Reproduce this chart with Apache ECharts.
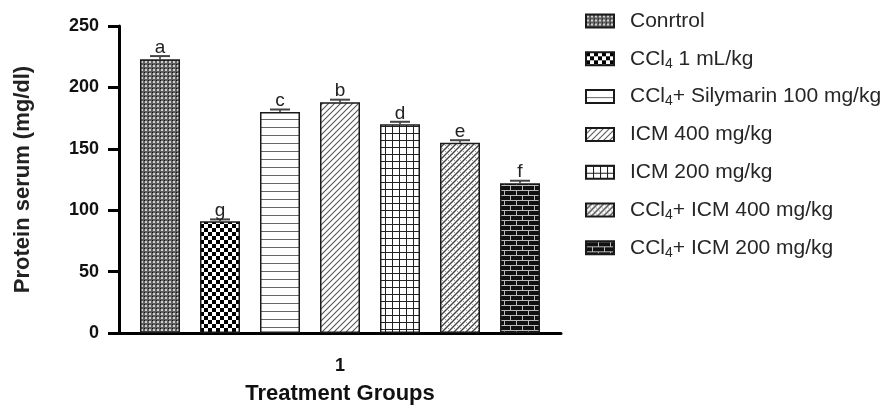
<!DOCTYPE html>
<html>
<head>
<meta charset="utf-8">
<script src="https://cdn.jsdelivr.net/npm/echarts@6/dist/echarts.min.js"></script>
<style>
  html, body { margin: 0; padding: 0; background: #fff; }
  #chart { width: 895px; height: 410px; }
</style>
</head>
<body>
<div id="chart"></div>
<script>
// Group names, mean values, error (SEM) and significance letters
const groups = [
  'Conrtrol',
  'CCl4 1 mL/kg',
  'CCl4+ Silymarin 100 mg/kg',
  'ICM 400 mg/kg',
  'ICM 200 mg/kg',
  'CCl4+ ICM 400 mg/kg',
  'CCl4+ ICM 200 mg/kg'
];
const means = [223, 91, 180, 188, 170, 155, 122];
const errors = [2.5, 1.5, 2, 2, 2, 2, 2];
const letters = ['a', 'g', 'c', 'b', 'd', 'e', 'f'];
const xCategories = ['1'];
const yTicks = { min: 0, max: 250, interval: 50 };

const FONT = '"Liberation Sans", Arial, sans-serif';
const BAR_W = 40;
const BAR_GAP = 0.5;

// ---- fill patterns built on small canvases ----
function tile(w, h, draw) {
  const c = document.createElement('canvas');
  c.width = w; c.height = h;
  const g = c.getContext('2d');
  draw(g, w, h);
  return { image: c, repeat: 'repeat' };
}
const patterns = [
  // fine gray dot texture
  tile(4, 4, (g) => {
    g.fillStyle = '#5e5e5e'; g.fillRect(0, 0, 4, 4);
    g.fillStyle = '#cfcfcf'; g.fillRect(1, 1, 2, 2);
    g.fillStyle = '#111'; g.fillRect(0, 0, 1, 1);
  }),
  // checkerboard
  tile(8, 8, (g) => {
    g.fillStyle = '#fff'; g.fillRect(0, 0, 8, 8);
    g.fillStyle = '#000'; g.fillRect(0, 0, 4, 4); g.fillRect(4, 4, 4, 4);
  }),
  // horizontal lines
  tile(8, 8, (g) => {
    g.fillStyle = '#fff'; g.fillRect(0, 0, 8, 8);
    g.fillStyle = '#666'; g.fillRect(0, 7, 8, 1);
  }),
  // forward diagonal lines
  tile(6, 6, (g, w, h) => {
    g.fillStyle = '#fff'; g.fillRect(0, 0, w, h);
    g.strokeStyle = '#555'; g.lineWidth = 1.1;
    [[-1, 1, 1, -1], [0, h, w, 0], [w - 1, h + 1, w + 1, h - 1]].forEach(s => {
      g.beginPath(); g.moveTo(s[0], s[1]); g.lineTo(s[2], s[3]); g.stroke();
    });
  }),
  // square grid
  tile(7, 7, (g) => {
    g.fillStyle = '#fff'; g.fillRect(0, 0, 7, 7);
    g.fillStyle = '#222'; g.fillRect(0, 0, 7, 1); g.fillRect(0, 0, 1, 7);
  }),
  // dense diagonal weave
  tile(6, 6, (g, w, h) => {
    g.fillStyle = '#fff'; g.fillRect(0, 0, w, h);
    g.strokeStyle = '#444'; g.lineWidth = 1.4;
    [[-1, 1, 1, -1], [0, h, w, 0], [w - 1, h + 1, w + 1, h - 1]].forEach(s => {
      g.beginPath(); g.moveTo(s[0], s[1]); g.lineTo(s[2], s[3]); g.stroke();
    });
    g.strokeStyle = '#999'; g.lineWidth = 1;
    g.beginPath(); g.moveTo(1, 1); g.lineTo(2.5, 2.5); g.stroke();
    g.beginPath(); g.moveTo(3.5, 3.5); g.lineTo(5, 5); g.stroke();
  }),
  // brick wall
  tile(12, 10, (g) => {
    g.fillStyle = '#111'; g.fillRect(0, 0, 12, 10);
    g.fillStyle = '#bbb';
    g.fillRect(0, 0, 12, 1); g.fillRect(0, 5, 12, 1);
    g.fillRect(0, 0, 1, 5); g.fillRect(6, 5, 1, 5);
  })
];

const barSeries = groups.map((name, i) => ({
  name: name,
  type: 'bar',
  barWidth: BAR_W,
  barGap: (BAR_GAP * 100) + '%',
  itemStyle: { color: patterns[i], borderColor: '#1a1a1a', borderWidth: 1.5 },
  emphasis: { disabled: true },
  data: [means[i]],
  z: 2
}));

// error bars and letters, centred on each bar of the group
const errData = means.map((v, i) => [0, v, errors[i], i]);
const errSeries = {
  type: 'custom',
  silent: true,
  z: 5,
  data: errData,
  renderItem: function (params, api) {
    const idx = api.value(3);
    const v = api.value(1);
    const e = api.value(2);
    const n = groups.length;
    const step = BAR_W * (1 + BAR_GAP);
    const off = (idx - (n - 1) / 2) * step;
    const base = api.coord([0, v]);
    const top = api.coord([0, v + e]);
    const x = base[0] + off;
    const half = BAR_W / 4;
    return {
      type: 'group',
      children: [
        { type: 'line', shape: { x1: x, y1: base[1], x2: x, y2: top[1] }, style: { stroke: '#333', lineWidth: 1.5 } },
        { type: 'line', shape: { x1: x - half, y1: top[1], x2: x + half, y2: top[1] }, style: { stroke: '#444', lineWidth: 2 } },
        { type: 'text', x: x, y: top[1] + 1, style: { text: letters[idx], fontFamily: FONT, fontSize: 19, fill: '#222', align: 'center', verticalAlign: 'bottom' } }
      ]
    };
  }
};

const chart = echarts.init(document.getElementById('chart'), null, { renderer: 'canvas' });
chart.setOption({
  animation: false,
  backgroundColor: '#fff',
  grid: { left: 119, right: 334, top: 26, bottom: 71, containLabel: false },
  legend: {
    orient: 'vertical',
    left: 580,
    top: 4,
    itemWidth: 28,
    itemHeight: 13,
    itemGap: 13.8,
    selectedMode: false,
    icon: 'rect',
    data: groups,
    formatter: (name) => name.replace('CCl4', 'CCl{sub|4}'),
    textStyle: {
      fontFamily: FONT, fontSize: 21, color: '#262626', lineHeight: 24,
      padding: [0, 0, 0, 11],
      rich: {
        sub: { fontFamily: FONT, fontSize: 14, lineHeight: 14, padding: [10, 0, 0, 0], color: '#262626' }
      }
    }
  },
  xAxis: {
    type: 'category',
    data: xCategories,
    name: 'Treatment Groups',
    nameLocation: 'middle',
    nameGap: 50,
    nameTextStyle: { fontFamily: FONT, fontSize: 22, fontWeight: 'bold', color: '#111' },
    axisLine: { lineStyle: { color: '#000', width: 3 } },
    axisTick: { alignWithLabel: true, length: 11, lineStyle: { color: '#000', width: 3 } },
    axisLabel: { fontFamily: FONT, fontSize: 18, fontWeight: 'bold', color: '#111', margin: 24 },
    splitLine: { show: false }
  },
  yAxis: {
    type: 'value',
    min: yTicks.min,
    max: yTicks.max,
    interval: yTicks.interval,
    name: 'Protein serum (mg/dl)',
    nameLocation: 'middle',
    nameGap: 85,
    nameTextStyle: { fontFamily: FONT, fontSize: 22, fontWeight: 'bold', color: '#222' },
    axisLine: { show: true, lineStyle: { color: '#000', width: 3 } },
    axisTick: { show: true, length: 11, lineStyle: { color: '#000', width: 3 } },
    axisLabel: { fontFamily: FONT, fontSize: 18, fontWeight: 'bold', color: '#111', margin: 20 },
    splitLine: { show: false }
  },
  series: barSeries.concat([errSeries])
});
</script>
</body>
</html>
